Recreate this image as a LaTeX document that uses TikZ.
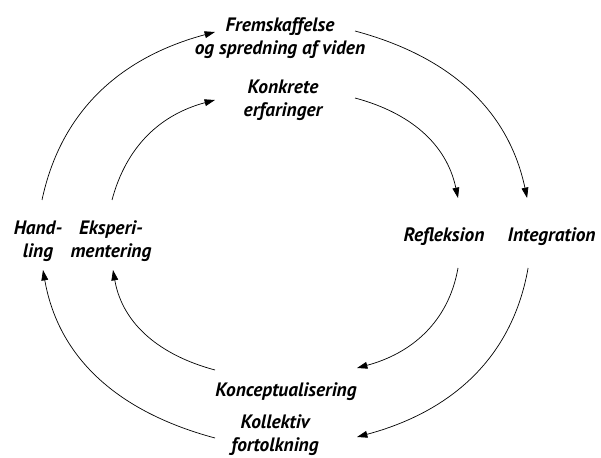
\documentclass[tikz,border=0pt]{standalone}
\usepackage{fontspec}
\setmainfont{PT Sans}
\usetikzlibrary{arrows.meta}
\tikzset{
  lbl/.style={font=\bfseries\itshape\fontsize{13.8}{16.3}\selectfont,align=center,inner sep=0pt},
  arr/.style={-{Triangle[length=0.26cm,width=0.17cm]},line width=0.5pt}
}

\begin{document}
\begin{tikzpicture}
      \useasboundingbox (0,0) rectangle (15.025,11.45);
      \node [lbl] (frem) at (7,10.4875) {Fremskaffelse\\og spredning af viden};
      \node [lbl,below of=frem,yshift=-0.5375cm,xshift=0.075cm] (konk) {Konkrete\\erfaringer};
      \node [lbl,below of=konk,yshift=-6.3cm,xshift=0.075cm] (konc) {Konceptualisering};
      \node [lbl,below of=konc,yshift=-0.07cm,xshift=-0.275cm] (koll) {Kollektiv\\fortolkning};
      \node [lbl] (hand) at (0.95,5.425) {Hand-\\ling};
      \node [lbl,right of=hand,xshift=0.825cm] (eksp) {Eksperi-\\mentering};
      \node [lbl] (refl) at (11.1,5.525) {Refleksion};
      \node [lbl,right of=refl,xshift=1.69cm] (integ) {Integration};

      \draw[arr] ([shift={(0.1,1.025)}]hand.center) to[out=78,in=195] ([shift={(-1.625,0.1625)}]frem.center);
      \draw[arr] ([shift={(1.875,0.1875)}]frem.center) to[out=-15,in=102] ([shift={(-0.6125,0.975)}]integ.center);
      \draw[arr] ([shift={(-0.5875,-0.775)}]integ.center) to[out=-100,in=15] ([shift={(2.05,-0.055)}]koll.center);
      \draw[arr] ([shift={(-1.5,-0.08)}]koll.center) to[out=165,in=-80] ([shift={(0.125,-0.725)}]hand.center);

      \draw[arr] ([shift={(0.025,1.025)}]eksp.center) to[out=75,in=195] ([shift={(-1.7,0)}]konk.center);
      \draw[arr] ([shift={(1.8,0.05)}]konk.center) to[out=-15,in=102] ([shift={(0.35,0.975)}]refl.center);
      \draw[arr] ([shift={(0.35,-0.775)}]refl.center) to[out=-100,in=15] ([shift={(1.775,0.6)}]konc.center);
      \draw[arr] ([shift={(-1.775,0.55)}]konc.center) to[out=165,in=-80] ([shift={(0.05,-0.725)}]eksp.center);
    \end{tikzpicture}
\end{document}
